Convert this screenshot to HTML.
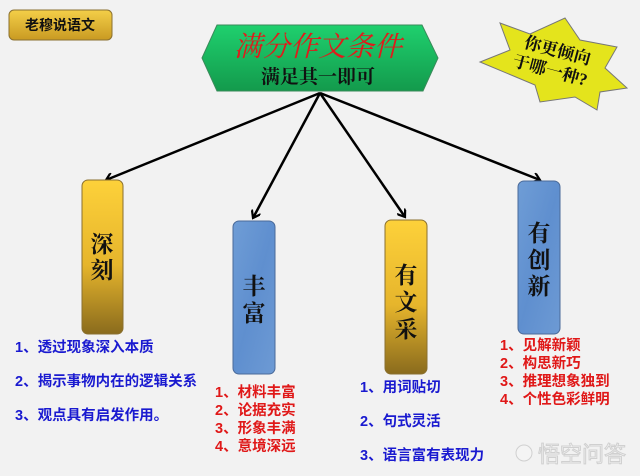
<!DOCTYPE html>
<html><head><meta charset="utf-8"><style>
body{margin:0;background:#f2f2f2;}
svg{display:block;font-family:"Liberation Serif","Noto Serif CJK SC",serif;}
.b{font-family:"Liberation Sans","Noto Sans CJK SC",sans-serif;font-weight:bold;font-size:14.5px;}
</style></head><body>
<svg width="640" height="476" viewBox="0 0 640 476">
<defs>
<linearGradient id="gold" x1="0" y1="0" x2="0" y2="1"><stop offset="0" stop-color="#fdd13a"/><stop offset="0.55" stop-color="#e6b52c"/><stop offset="1" stop-color="#8a6b1d"/></linearGradient>
<linearGradient id="btn" x1="0" y1="0" x2="0" y2="1"><stop offset="0" stop-color="#f4cf48"/><stop offset="1" stop-color="#c99a22"/></linearGradient>
<linearGradient id="grn" x1="0" y1="0" x2="0" y2="1"><stop offset="0" stop-color="#1fd06e"/><stop offset="1" stop-color="#139a4c"/></linearGradient>
<linearGradient id="blu" x1="0" y1="0" x2="1" y2="1"><stop offset="0" stop-color="#6f9dd6"/><stop offset="0.5" stop-color="#5f8fcf"/><stop offset="1" stop-color="#6d9ad4"/></linearGradient>
<marker id="ar" markerWidth="10" markerHeight="10" refX="8" refY="5" orient="auto" markerUnits="userSpaceOnUse"><path d="M1,0 L8,5 L1,10" fill="none" stroke="#000" stroke-width="2.2"/></marker>
</defs>
<rect x="9" y="10" width="103" height="30" rx="5" fill="url(#btn)" stroke="#8a7030"/>
<text x="60" y="30" text-anchor="middle" class="b" style="font-size:14px" fill="#111">老穆说语文</text>

<polygon points="202,58 217,25 422,25 438,58 423,91 217,91" fill="url(#grn)" stroke="#3a8a5a"/>
<text x="318" y="56" text-anchor="middle" font-size="28" font-style="italic" fill="#e01b1b">满分作文条件</text>
<text x="318" y="83" text-anchor="middle" font-size="19" font-weight="bold" fill="#111">满足其一即可</text>

<polygon points="500,23 530,34 565,18 580,40 617,47 605,68 627,88 600,92 597,110 575,97 540,102 535,85 480,62 510,50" fill="#e4e41c" stroke="#777"/>
<g transform="rotate(15 555 60)" font-size="17" font-weight="bold" fill="#111"><text x="555" y="56" text-anchor="middle">你更倾向</text><text x="553" y="77" text-anchor="middle">于哪一种?</text></g>

<g stroke="#000" stroke-width="2.5" marker-end="url(#ar)">
<line x1="320" y1="93" x2="106" y2="180"/>
<line x1="320" y1="93" x2="253" y2="218"/>
<line x1="320" y1="93" x2="405" y2="217"/>
<line x1="320" y1="93" x2="540" y2="180"/>
</g>

<rect x="82" y="180" width="41" height="154" rx="6" fill="url(#gold)" stroke="#8a7030"/>
<rect x="233" y="221" width="42" height="153" rx="6" fill="url(#blu)" stroke="#4a6a99"/>
<rect x="385" y="220" width="42" height="154" rx="6" fill="url(#gold)" stroke="#8a7030"/>
<rect x="518" y="181" width="42" height="153" rx="6" fill="url(#blu)" stroke="#4a6a99"/>
<g font-size="23" font-weight="bold" fill="#111" text-anchor="middle">
<text x="102" y="252">深</text><text x="102" y="278">刻</text>
<text x="254" y="294">丰</text><text x="254" y="321">富</text>
<text x="406" y="283">有</text><text x="406" y="310">文</text><text x="406" y="337">采</text>
<text x="539" y="241">有</text><text x="539" y="268">创</text><text x="539" y="294">新</text>
</g>

<g class="b" fill="#1a1ad0">
<text x="15" y="352">1、透过现象深入本质</text>
<text x="15" y="386">2、揭示事物内在的逻辑关系</text>
<text x="15" y="420">3、观点具有启发作用。</text>
<text x="360" y="392">1、用词贴切</text>
<text x="360" y="426">2、句式灵活</text>
<text x="360" y="460">3、语言富有表现力</text>
</g>
<g class="b" fill="#e01818">
<text x="215" y="397">1、材料丰富</text>
<text x="215" y="415">2、论据充实</text>
<text x="215" y="433">3、形象丰满</text>
<text x="215" y="451">4、意境深远</text>
<text x="500" y="350">1、见解新颖</text>
<text x="500" y="368">2、构思新巧</text>
<text x="500" y="386">3、推理想象独到</text>
<text x="500" y="404">4、个性色彩鲜明</text>
</g>
<g fill="#f4f4f4" stroke="#d0d0d0" stroke-width="1">
<circle cx="524" cy="453" r="8"/>
<text x="538" y="462" font-size="22" font-family="Liberation Sans,Noto Sans CJK SC,sans-serif">悟空问答</text>
</g>
</svg>
</body></html>
